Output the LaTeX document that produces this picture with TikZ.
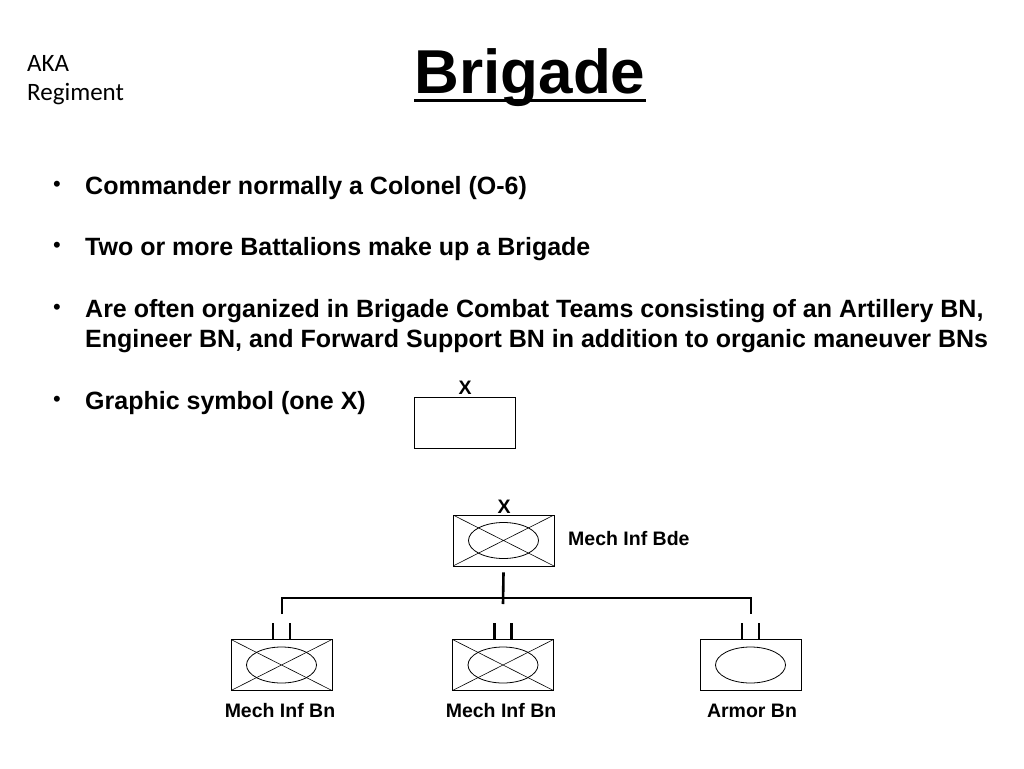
\documentclass[tikz,border=0pt]{standalone}
\usepackage{fontspec}
\setmainfont{Liberation Sans}
\newfontfamily\akafont{Carlito}
\begin{document}
\begin{tikzpicture}[x=1pt,y=-1pt,
  unit/.style={draw,line width=0.8pt,minimum width=101pt,minimum height=51pt,inner sep=0pt},
  inf/.style={unit,path picture={\draw[line width=0.6pt] (path picture bounding box.north west)--(path picture bounding box.south east) (path picture bounding box.south west)--(path picture bounding box.north east);}},
  lbl/.style={font=\bfseries\fontsize{19.5}{22}\selectfont,inner sep=0pt},
  bul/.style={font=\bfseries\fontsize{25}{30.5}\selectfont,anchor=west,inner sep=0pt,align=left},
  conn/.style={line width=2.6pt},
  tick/.style={line width=2.6pt}]
\useasboundingbox (0,0) rectangle (1024,768);
\node[font=\akafont\fontsize{25}{29}\selectfont,anchor=north west,align=left,inner sep=0pt] (aka) at (27,55) {AKA\\Regiment};
\node[font=\bfseries\fontsize{62}{66}\selectfont,inner sep=0pt,anchor=base] (title) at (530,93) {Brigade};
\draw[line width=3pt] ([yshift=-7pt]title.base west) -- ([yshift=-7pt]title.base east);
\foreach \y/\n in {188/b1,249/b2,311/b3,403/b4}{\node[font=\fontsize{22}{24}\selectfont,inner sep=0pt] (\n d) at (57,\y-2) {•};}
\node[bul] (t1) at (85,188) {Commander normally a Colonel (O-6)};
\node[bul] (t2) at (85,249) {Two or more Battalions make up a Brigade};
\node[bul] (t3) at (85,326) {Are often organized in Brigade Combat Teams consisting of an Artillery BN,\\Engineer BN, and Forward Support BN in addition to organic maneuver BNs};
\node[bul] (t4) at (85,403) {Graphic symbol (one X)};
\node[unit] (sym) at (465,422.5) {};
\node[lbl] (symx) at (465,388) {X};
% org chart
\node[inf] (bde) at (503.5,540.5) {};
\draw[line width=0.8pt] (bde.center) ellipse (35 and 18);
\node[lbl] (bdex) at (504,507) {X};
\node[lbl,anchor=west] (bdel) at (568,539) {Mech Inf Bde};
\node[inf] (bn1) at (281.5,665) {};
\node[inf] (bn2) at (503,665) {};
\node[unit] (bn3) at (750.5,665) {};
\foreach \b in {bn1,bn2,bn3}{
  \draw[line width=0.8pt] (\b.center) ellipse (35 and 18);
  \draw[tick] ([xshift=-8.5pt,yshift=-0.5pt]\b.north) -- ++(0,-17);
  \draw[tick] ([xshift=8.5pt,yshift=-0.5pt]\b.north) -- ++(0,-17);
}
\node[lbl,anchor=base] (l1) at (280,717) {Mech Inf Bn};
\node[lbl,anchor=base] (l2) at (501,717) {Mech Inf Bn};
\node[lbl,anchor=base] (l3) at (752,717) {Armor Bn};
\coordinate (j) at (503,598);
\coordinate (jl) at (282,598);
\coordinate (jr) at (751,598);
\draw[conn] ([yshift=-6pt]bde.south) -- ([yshift=-6pt]j);
\draw[conn] ([yshift=-16pt]jl) -- (jl) -- (jr) -- ([yshift=-16pt]jr);
\end{tikzpicture}
\end{document}
